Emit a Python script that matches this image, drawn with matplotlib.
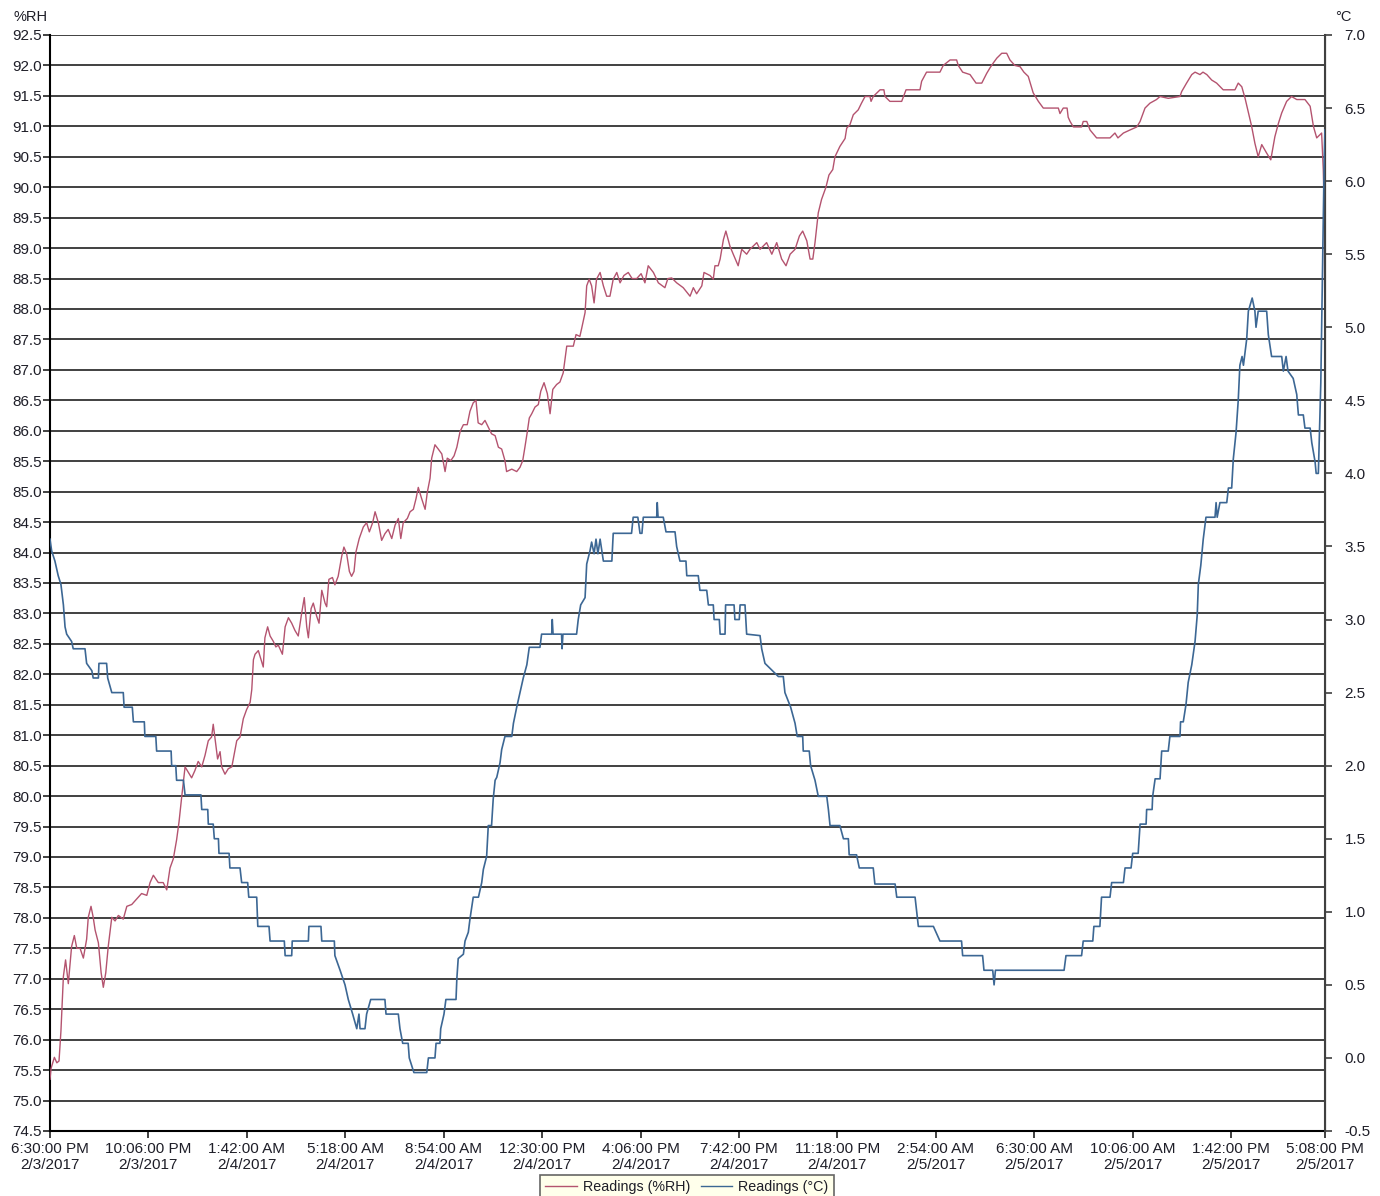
import numpy as np
import matplotlib.pyplot as plt
from datetime import datetime, timedelta

plt.rcParams['font.family'] = ['Liberation Sans', 'DejaVu Sans']

# logger start 6:30 PM 2/3/2017, times in hours elapsed
start = datetime(2017, 2, 3, 18, 30)
end = datetime(2017, 2, 5, 17, 8)
end_hours = (end - start).total_seconds() / 3600.0

# temperature readings (degC)
temp_hours = [0.00, 0.06, 0.18, 0.30, 0.40, 0.49, 0.55, 0.61, 0.79, 0.85, 1.28, 1.34, 1.53, 1.58, 1.77, 1.79,
              2.07, 2.11, 2.26, 2.68, 2.71, 3.01, 3.05, 3.45, 3.47, 3.87, 3.90, 4.43, 4.45, 4.60, 4.63, 4.88,
              4.94, 5.52, 5.55, 5.77, 5.79, 5.97, 6.01, 6.16, 6.18, 6.55, 6.58, 6.95, 7.01, 7.23, 7.27, 7.56,
              7.60, 8.01, 8.05, 8.57, 8.60, 8.84, 8.86, 9.45, 9.47, 9.91, 9.94, 10.40, 10.42, 10.61, 10.79,
              10.91, 11.07, 11.22, 11.30, 11.34, 11.52, 11.58, 11.73, 12.25, 12.29, 12.74, 12.80, 12.90,
              13.10, 13.14, 13.31, 13.78, 13.84, 14.08, 14.12, 14.26, 14.29, 14.41, 14.48, 14.85, 14.88,
              14.93, 15.12, 15.18, 15.30, 15.36, 15.48, 15.67, 15.79, 15.85, 15.97, 16.03, 16.15, 16.21,
              16.28, 16.34, 16.46, 16.52, 16.64, 16.89, 16.95, 17.07, 17.19, 17.31, 17.44, 17.53, 17.92,
              17.98, 18.35, 18.37, 18.40, 18.71, 18.73, 18.76, 19.26, 19.32, 19.41, 19.57, 19.63, 19.75,
              19.81, 19.90, 19.97, 20.04, 20.12, 20.24, 20.55, 20.60, 21.27, 21.33, 21.50, 21.58, 21.65,
              21.70, 22.19, 22.21, 22.24, 22.43, 22.53, 22.86, 22.92, 23.04, 23.26, 23.29, 23.71, 23.77,
              24.02, 24.08, 24.26, 24.29, 24.48, 24.51, 24.69, 24.71, 25.02, 25.05, 25.21, 25.24, 25.42,
              25.48, 25.97, 26.03, 26.15, 26.64, 26.82, 26.88, 27.09, 27.25, 27.33, 27.53, 27.55, 27.77,
              27.82, 27.98, 28.10, 28.41, 28.47, 28.53, 28.89, 29.02, 29.20, 29.23, 29.50, 29.60, 30.11,
              30.17, 30.91, 30.97, 31.64, 31.76, 32.31, 32.55, 33.34, 33.38, 34.11, 34.16, 34.48, 34.53,
              34.58, 37.09, 37.16, 37.73, 37.79, 38.14, 38.18, 38.40, 38.46, 38.77, 38.83, 39.26, 39.32,
              39.54, 39.60, 39.80, 39.87, 40.09, 40.11, 40.31, 40.33, 40.42, 40.60, 40.66, 40.90, 40.96,
              41.33, 41.35, 41.45, 41.55, 41.63, 41.76, 41.88, 41.96, 42.00, 42.09, 42.18, 42.28, 42.61,
              42.65, 42.69, 42.79, 43.04, 43.10, 43.22, 43.28, 43.38, 43.46, 43.52, 43.60, 43.65, 43.69,
              43.77, 43.83, 43.97, 44.07, 44.11, 44.19, 44.50, 44.56, 44.68, 45.05, 45.11, 45.21, 45.28,
              45.47, 45.60, 45.66, 45.84, 45.90, 46.09, 46.15, 46.27, 46.31, 46.39, 46.43, 46.48, 46.55,
              46.60, 46.63]
temp_vals = [3.55, 3.47, 3.40, 3.30, 3.24, 3.10, 2.95, 2.90, 2.85, 2.80, 2.80, 2.70, 2.65, 2.60, 2.60, 2.70,
             2.70, 2.60, 2.50, 2.50, 2.40, 2.40, 2.30, 2.30, 2.20, 2.20, 2.10, 2.10, 2.00, 2.00, 1.90, 1.90,
             1.80, 1.80, 1.70, 1.70, 1.60, 1.60, 1.50, 1.50, 1.40, 1.40, 1.30, 1.30, 1.20, 1.20, 1.10, 1.10,
             0.90, 0.90, 0.80, 0.80, 0.70, 0.70, 0.80, 0.80, 0.90, 0.90, 0.80, 0.80, 0.70, 0.60, 0.50,
             0.40, 0.30, 0.20, 0.30, 0.20, 0.20, 0.30, 0.40, 0.40, 0.30, 0.30, 0.20, 0.10,
             0.10, 0.00, -0.10, -0.10, 0.00, 0.00, 0.10, 0.10, 0.20, 0.30, 0.40, 0.40, 0.54,
             0.68, 0.71, 0.80, 0.86, 0.95, 1.10, 1.10, 1.20, 1.29, 1.38, 1.59, 1.59, 1.77,
             1.90, 1.92, 2.02, 2.11, 2.20, 2.20, 2.29, 2.40, 2.50, 2.60, 2.69, 2.81, 2.81,
             2.90, 2.90, 3.00, 2.90, 2.90, 2.80, 2.90, 2.90, 3.00, 3.10, 3.15, 3.38, 3.47,
             3.53, 3.45, 3.55, 3.45, 3.55, 3.40, 3.40, 3.59, 3.59, 3.70, 3.70, 3.59, 3.59,
             3.70, 3.70, 3.80, 3.70, 3.70, 3.60, 3.60, 3.50, 3.40, 3.40, 3.30, 3.30, 3.20,
             3.20, 3.10, 3.10, 3.00, 3.00, 2.90, 2.90, 3.10, 3.10, 3.00, 3.00, 3.10, 3.10,
             2.90, 2.89, 2.80, 2.70, 2.61, 2.61, 2.50, 2.40, 2.29, 2.20, 2.20, 2.10, 2.10,
             2.00, 1.90, 1.79, 1.79, 1.70, 1.59, 1.59, 1.50, 1.50, 1.39, 1.39, 1.30, 1.30,
             1.19, 1.19, 1.10, 1.10, 0.90, 0.90, 0.80, 0.80, 0.70, 0.70, 0.60, 0.60, 0.50,
             0.60, 0.60, 0.70, 0.70, 0.80, 0.80, 0.90, 0.90, 1.10, 1.10, 1.20, 1.20, 1.30,
             1.30, 1.40, 1.40, 1.60, 1.60, 1.70, 1.70, 1.79, 1.91, 1.91, 2.10, 2.10, 2.20,
             2.20, 2.30, 2.30, 2.42, 2.57, 2.69, 2.85, 3.03, 3.24, 3.37, 3.55, 3.70, 3.70,
             3.80, 3.70, 3.80, 3.80, 3.90, 3.90, 4.10, 4.28, 4.50, 4.74, 4.80, 4.74, 4.80,
             4.92, 5.11, 5.20, 5.11, 5.00, 5.11, 5.11, 4.95, 4.80, 4.80, 4.70, 4.80, 4.70,
             4.65, 4.54, 4.40, 4.40, 4.31, 4.31, 4.21, 4.08, 4.00, 4.00, 4.28, 4.62, 5.50,
             6.10, 6.35]

# relative humidity readings (%RH)
rh_hours = [0.00, 0.04, 0.16, 0.25, 0.33, 0.40, 0.49, 0.57, 0.67, 0.73, 0.79, 0.89, 0.98, 1.10, 1.22, 1.34,
            1.40, 1.50, 1.58, 1.65, 1.77, 1.87, 1.95, 2.04, 2.13, 2.26, 2.38, 2.50, 2.68, 2.81, 2.99, 3.17,
            3.35, 3.54, 3.66, 3.78, 3.96, 4.14, 4.27, 4.39, 4.51, 4.63, 4.72, 4.82, 4.94, 5.06, 5.18, 5.30,
            5.42, 5.55, 5.67, 5.79, 5.91, 5.97, 6.03, 6.13, 6.22, 6.28, 6.40, 6.52, 6.65, 6.83, 6.95, 7.07,
            7.19, 7.32, 7.38, 7.44, 7.50, 7.62, 7.72, 7.80, 7.86, 7.96, 8.05, 8.17, 8.26, 8.35, 8.50, 8.60,
            8.72, 8.84, 8.96, 9.08, 9.21, 9.30, 9.39, 9.45, 9.55, 9.63, 9.75, 9.84, 9.94, 10.06, 10.12,
            10.20, 10.33, 10.42, 10.54, 10.67, 10.75, 10.85, 10.95, 11.03, 11.12, 11.19, 11.31, 11.46,
            11.58, 11.68, 11.80, 11.89, 12.01, 12.13, 12.25, 12.37, 12.50, 12.62, 12.74, 12.83, 12.92,
            13.07, 13.17, 13.29, 13.39, 13.47, 13.59, 13.72, 13.80, 13.90, 13.96, 14.08, 14.20, 14.33,
            14.45, 14.53, 14.66, 14.78, 14.88, 15.00, 15.12, 15.26, 15.36, 15.48, 15.58, 15.66, 15.79,
            15.91, 16.03, 16.15, 16.28, 16.40, 16.52, 16.64, 16.70, 16.89, 17.07, 17.19, 17.29, 17.37,
            17.46, 17.53, 17.62, 17.74, 17.86, 17.95, 18.07, 18.19, 18.29, 18.39, 18.53, 18.65, 18.77,
            18.90, 19.14, 19.24, 19.38, 19.45, 19.57, 19.63, 19.72, 19.81, 19.90, 19.99, 20.12, 20.24,
            20.36, 20.48, 20.60, 20.73, 20.85, 20.99, 21.15, 21.29, 21.46, 21.62, 21.76, 21.88, 22.07,
            22.25, 22.49, 22.60, 22.74, 22.92, 23.16, 23.41, 23.53, 23.65, 23.84, 23.92, 24.14, 24.26,
            24.32, 24.44, 24.51, 24.63, 24.72, 24.87, 24.99, 25.17, 25.30, 25.48, 25.60, 25.85, 25.97,
            26.21, 26.40, 26.58, 26.76, 26.92, 27.07, 27.25, 27.41, 27.53, 27.68, 27.80, 27.90, 27.98,
            28.10, 28.22, 28.38, 28.49, 28.63, 28.71, 28.89, 29.08, 29.14, 29.26, 29.38, 29.56, 29.68,
            29.81, 29.99, 30.03, 30.11, 30.36, 30.50, 30.54, 30.72, 31.15, 31.31, 31.82, 31.88, 32.06,
            32.55, 32.67, 32.92, 33.16, 33.22, 33.38, 33.65, 33.87, 34.08, 34.26, 34.38, 34.50, 34.63,
            34.81, 34.99, 35.11, 35.29, 35.48, 35.62, 35.78, 35.96, 36.15, 36.33, 36.88, 36.94, 37.06,
            37.20, 37.24, 37.31, 37.43, 37.73, 37.79, 37.92, 38.04, 38.28, 38.77, 38.95, 39.06, 39.26,
            39.50, 39.75, 39.87, 40.05, 40.23, 40.47, 40.60, 40.90, 41.33, 41.39, 41.57, 41.76, 41.88,
            42.06, 42.17, 42.31, 42.49, 42.67, 42.91, 43.34, 43.46, 43.59, 43.71, 43.81, 43.95, 44.07,
            44.19, 44.32, 44.50, 44.65, 44.80, 44.93, 45.05, 45.23, 45.41, 45.60, 45.90, 46.09, 46.21,
            46.33, 46.51, 46.57, 46.61, 46.63]
rh_vals = [75.35, 75.53, 75.71, 75.62, 75.65, 76.14, 77.04, 77.31, 76.92, 77.22, 77.53, 77.71, 77.50, 77.50,
           77.34, 77.65, 78.01, 78.19, 78.01, 77.80, 77.59, 77.10, 76.86, 77.10, 77.53, 78.01, 77.95, 78.04,
           77.98, 78.19, 78.22, 78.31, 78.40, 78.37, 78.58, 78.70, 78.58, 78.58, 78.46, 78.82, 78.97, 79.28,
           79.58, 80.00, 80.48, 80.39, 80.30, 80.42, 80.57, 80.48, 80.67, 80.91, 80.97, 81.18, 80.97, 80.61,
           80.73, 80.48, 80.36, 80.45, 80.48, 80.91, 80.97, 81.27, 81.42, 81.54, 81.75, 82.24, 82.33, 82.39,
           82.24, 82.12, 82.60, 82.78, 82.63, 82.54, 82.45, 82.48, 82.33, 82.78, 82.93, 82.84, 82.72, 82.63,
           83.02, 83.26, 82.78, 82.60, 83.08, 83.17, 82.96, 82.84, 83.38, 83.17, 83.11, 83.56, 83.59, 83.47,
           83.61, 83.94, 84.09, 83.98, 83.69, 83.61, 83.69, 84.01, 84.23, 84.42, 84.49, 84.34, 84.49, 84.67,
           84.49, 84.20, 84.31, 84.38, 84.23, 84.45, 84.56, 84.23, 84.49, 84.56, 84.67, 84.71, 84.89, 85.07,
           84.89, 84.71, 84.99, 85.22, 85.55, 85.77, 85.70, 85.62, 85.33, 85.55, 85.51, 85.59, 85.73, 85.99,
           86.10, 86.10, 86.32, 86.46, 86.50, 86.13, 86.10, 86.17, 86.06, 85.95, 85.92, 85.73, 85.70, 85.51,
           85.33, 85.37, 85.33, 85.40, 85.51, 85.73, 85.99, 86.21, 86.28, 86.39, 86.43, 86.65, 86.79, 86.61,
           86.28, 86.68, 86.76, 86.80, 86.95, 87.39, 87.39, 87.58, 87.55, 87.69, 87.94, 88.38, 88.49, 88.38,
           88.10, 88.49, 88.60, 88.38, 88.21, 88.21, 88.49, 88.60, 88.43, 88.55, 88.60, 88.50, 88.50, 88.58,
           88.43, 88.71, 88.60, 88.43, 88.35, 88.50, 88.51, 88.43, 88.35, 88.21, 88.35, 88.25, 88.38, 88.60,
           88.55, 88.49, 88.71, 88.71, 88.82, 89.14, 89.28, 89.03, 88.90, 88.71, 88.98, 88.90, 88.98, 89.09,
           88.98, 89.09, 88.90, 89.09, 88.82, 88.71, 88.90, 88.98, 89.20, 89.28, 89.12, 88.82, 88.82, 89.09,
           89.58, 89.80, 90.00, 90.20, 90.29, 90.50, 90.67, 90.80, 90.97, 91.03, 91.19, 91.27, 91.38, 91.49,
           91.49, 91.41, 91.49, 91.60, 91.60, 91.49, 91.41, 91.41, 91.60, 91.60, 91.74, 91.89, 91.89, 92.00,
           92.09, 92.09, 92.00, 91.89, 91.85, 91.71, 91.71, 91.87, 91.96, 92.04, 92.12, 92.20, 92.20, 92.09,
           92.00, 91.98, 91.89, 91.82, 91.55, 91.41, 91.30, 91.30, 91.21, 91.30, 91.30, 91.15, 91.08, 90.99,
           90.99, 91.08, 91.08, 90.94, 90.81, 90.81, 90.89, 90.81, 90.89, 90.94, 90.99, 91.08, 91.30, 91.38,
           91.44, 91.49, 91.46, 91.49, 91.57, 91.71, 91.85, 91.89, 91.85, 91.89, 91.85, 91.76, 91.71, 91.60,
           91.60, 91.71, 91.65, 91.46, 91.27, 91.00, 90.72, 90.50, 90.70, 90.56, 90.45, 90.83, 91.05, 91.22,
           91.41, 91.49, 91.44, 91.44, 91.33, 91.00, 90.81, 90.89, 90.29, 89.50, 87.22]

rh_color = '#b4536f'
temp_color = '#3c6794'
text_color = '#1e1e28'

fig = plt.figure(figsize=(13.8, 11.96), dpi=100)
ax = fig.add_axes([50/1380, 1 - 1131/1196, 1275/1380, 1096/1196])
ax2 = ax.twinx()

# horizontal grid from the %RH axis
for v in np.arange(74.5, 92.51, 0.5):
    ax.axhline(v, color='#202020', lw=1.2, zorder=1)

ax.plot(rh_hours, rh_vals, color=rh_color, lw=1.0, zorder=3)
ax2.plot(temp_hours, temp_vals, color=temp_color, lw=1.2, zorder=3)

ax.set_xlim(0, end_hours)
ax.set_ylim(74.5, 92.5)
ax2.set_ylim(-0.5, 7.0)

ax.set_yticks(np.arange(74.5, 92.51, 0.5))
ax.set_yticklabels(['%.1f' % v for v in np.arange(74.5, 92.51, 0.5)])
ax2.set_yticks(np.arange(-0.5, 7.01, 0.5))
ax2.set_yticklabels(['%.1f' % v for v in np.arange(-0.5, 7.01, 0.5)])

xt = [i * 3.6 for i in range(13)] + [end_hours]
labels = []
for h in xt:
    t = start + timedelta(hours=h)
    labels.append(t.strftime('%-I:%M:%S %p') + '\n' + t.strftime('%-m/%-d/%Y'))
ax.set_xticks(xt)
ax.set_xticklabels(labels, linespacing=1.2)

ax.tick_params(axis='y', labelsize=11, length=5, width=1.2, pad=1, colors='#202020', labelcolor=text_color)
ax.tick_params(axis='x', labelsize=11, length=5, width=1.2, pad=3, colors='#202020', labelcolor=text_color)
ax2.tick_params(axis='y', labelsize=11, length=5, width=1.2, pad=9, colors='#404040', labelcolor=text_color)

for a in (ax, ax2):
    a.spines['top'].set_visible(False)
ax.spines['left'].set_linewidth(1.5)
ax.spines['bottom'].set_linewidth(1.5)
ax2.spines['right'].set_linewidth(1.5)
ax2.spines['right'].set_color('#404040')
ax2.spines['left'].set_visible(False)
ax2.spines['bottom'].set_visible(False)

fig.text(13/1380, 1 - 17/1196, '%RH', fontsize=10.5, color=text_color, va='center', ha='left')
fig.text(1335/1380, 1 - 17/1196, '°C', fontsize=10.5, color=text_color, va='center', ha='left')

h1, = ax.plot([], [], color=rh_color, lw=1.0)
h2, = ax.plot([], [], color=temp_color, lw=1.0)
leg = fig.legend([h1, h2], ['Readings (%RH)', 'Readings (°C)'], loc='upper center',
                 bbox_to_anchor=(687/1380, 1 - 1175/1196), ncol=2, fontsize=10.3, frameon=True,
                 fancybox=False, handlelength=2.2, handletextpad=0.45, columnspacing=0.7,
                 borderpad=0.35, borderaxespad=0)
leg.get_frame().set_facecolor('#ffffe6')
leg.get_frame().set_edgecolor('#404040')
leg.get_frame().set_linewidth(1.2)
for t in leg.get_texts():
    t.set_color(text_color)

fig.savefig('out.png', dpi=100)
